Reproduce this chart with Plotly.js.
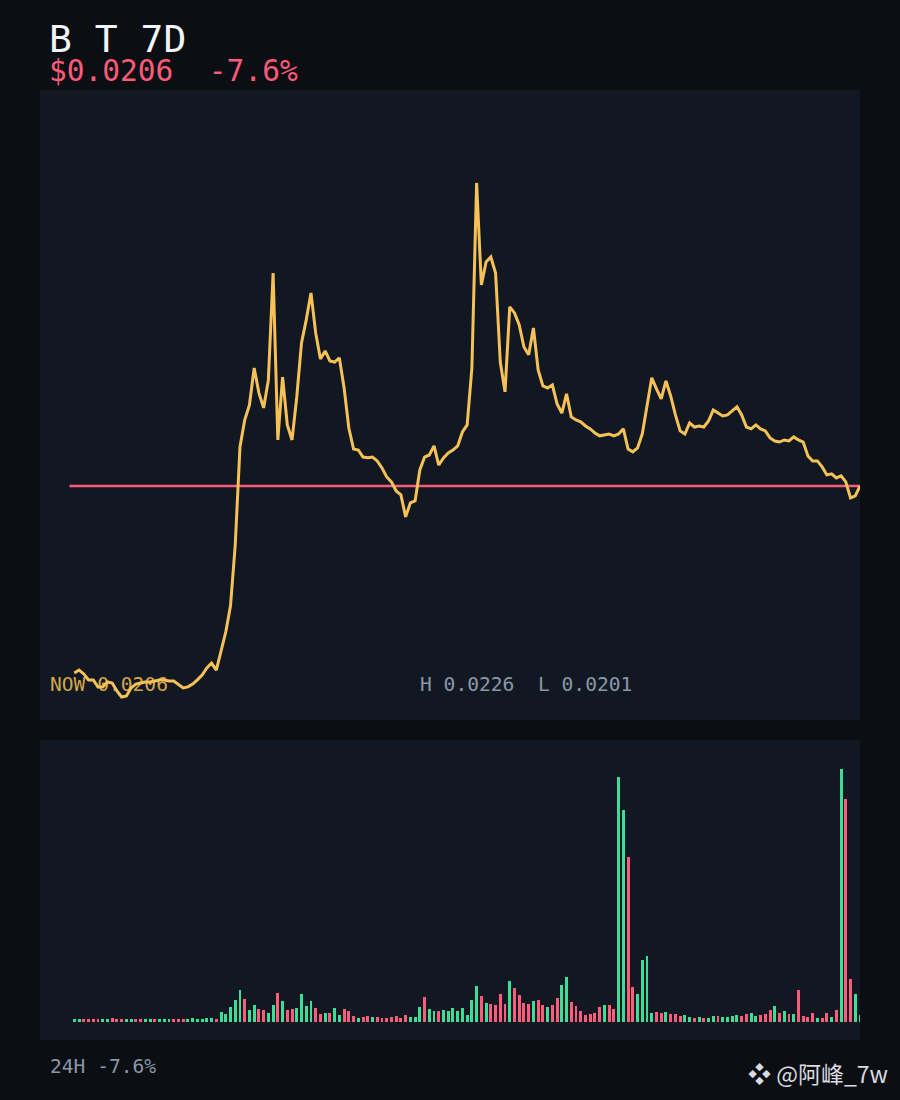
<!DOCTYPE html>
<html>
<head>
<meta charset="utf-8">
<script src="https://cdn.plot.ly/plotly-3.0.1.min.js"></script>
<style>
  html, body { margin: 0; padding: 0; background: #0b0e13; }
  #chart { width: 900px; height: 1100px; }
</style>
</head>
<body>
<div id="chart"></div>
<script>
// ---- data (hourly, 7 days) ----
const prices = [
  0.020217,0.020231,0.020212,0.020183,0.020183,0.020149,0.020149,0.020173,0.020168,0.020129,
  0.020100,0.020105,0.020144,0.020163,0.020168,0.020173,0.020173,0.020178,0.020183,0.020183,
  0.020178,0.020178,0.020163,0.020144,0.020149,0.020163,0.020183,0.020207,0.020241,0.020265,
  0.020231,0.020319,0.020416,0.020543,0.020839,0.021316,0.021447,0.021520,0.021700,0.021579,
  0.021506,0.021642,0.022162,0.021350,0.021656,0.021423,0.021350,0.021559,0.021822,0.021934,
  0.022065,0.021870,0.021744,0.021783,0.021734,0.021729,0.021749,0.021603,0.021408,0.021306,
  0.021301,0.021267,0.021263,0.021267,0.021248,0.021214,0.021170,0.021146,0.021102,0.021083,
  0.020976,0.021044,0.021053,0.021204,0.021267,0.021277,0.021321,0.021228,0.021263,0.021287,
  0.021301,0.021321,0.021389,0.021423,0.021700,0.022600,0.022104,0.022216,0.022240,0.022162,
  0.021729,0.021584,0.021997,0.021968,0.021909,0.021802,0.021764,0.021895,0.021691,0.021613,
  0.021603,0.021618,0.021525,0.021481,0.021574,0.021462,0.021447,0.021438,0.021418,0.021404,
  0.021384,0.021370,0.021374,0.021379,0.021370,0.021379,0.021404,0.021306,0.021292,0.021311,
  0.021379,0.021506,0.021652,0.021598,0.021550,0.021637,0.021564,0.021472,0.021394,0.021379,
  0.021433,0.021413,0.021418,0.021413,0.021442,0.021496,0.021481,0.021467,0.021472,0.021491,
  0.021511,0.021472,0.021413,0.021404,0.021423,0.021404,0.021394,0.021360,0.021345,0.021340,
  0.021350,0.021345,0.021365,0.021350,0.021340,0.021272,0.021248,0.021248,0.021219,0.021180,
  0.021185,0.021165,0.021175,0.021146,0.021068,0.021078,0.021126
];
const baseline = 0.021126;

const volumes = [
  3,3,3,3,3,3,3,3,4,3,  3,3,3,3,3,3,3,3,3,3,  3,3,3,3,3,4,3,3,4,4,
  3,10,8,15,22,32,23,12,17,13,  12,9,17,29,21,12,13,14,28,16,
  21,14,8,9,9,14,7,13,11,6,  4,5,6,5,5,4,4,5,6,4,
  7,5,5,15,25,13,11,11,12,11,  14,11,14,7,22,36,26,19,18,17,
  28,18,41,34,27,19,18,21,22,17,  15,17,24,37,45,20,16,11,7,8,
  9,15,17,17,13,245,212,165,35,28,  62,66,9,10,9,10,8,8,6,7,
  5,4,5,4,4,6,6,5,5,6,  7,6,8,9,6,7,8,12,16,9,
  11,8,8,32,6,5,9,4,4,9,  5,12,253,223,43,28,7
];
// 1 = up candle, 0 = down candle
const upDown = [
  1,1,0,0,0,0,1,1,0,0,  0,1,1,0,0,1,1,0,1,1,  1,0,0,0,1,1,1,1,1,1,
  0,1,1,1,1,1,0,1,1,0,  0,1,1,0,1,0,0,1,1,1,  1,0,0,1,0,1,1,0,0,0,
  1,0,0,1,0,0,0,0,0,0,  0,1,1,1,0,1,1,0,1,1,  1,1,1,1,1,1,0,1,0,0,
  0,0,1,0,0,0,0,1,0,0,  1,0,0,1,1,0,0,0,0,0,  0,0,1,0,0,1,1,0,0,1,
  1,1,1,0,0,1,0,0,0,1,  1,0,1,0,1,1,0,1,1,1,  1,0,0,1,1,0,0,0,1,0,
  1,0,1,0,0,0,0,1,0,0,  1,0,1,0,0,1,1
];

const titleText = 'B T 7D';
const priceText = '$0.0206  -7.6%';
const nowText = 'NOW 0.0206';
const hiLoText = 'H 0.0226  L 0.0201';
const changeText = '24H -7.6%';
const credit = '❖ @阿峰_7w';

// ---- build ----
const hours = prices.map((_, i) => i);
const UP = '#3ddc97', DOWN = '#ff5c7c';
const mono = 'DejaVu Sans Mono, monospace';

const traces = [
  {
    x: [hours[0] - 1, hours[hours.length - 1]],
    y: [baseline, baseline],
    xaxis: 'x', yaxis: 'y',
    type: 'scatter', mode: 'lines',
    line: { color: '#ff5c7c', width: 2.5 },
    hoverinfo: 'skip'
  },
  {
    x: hours, y: prices,
    xaxis: 'x', yaxis: 'y',
    type: 'scatter', mode: 'lines',
    line: { color: '#f6c157', width: 3, shape: 'linear' },
    hoverinfo: 'skip'
  },
  {
    x: hours, y: volumes,
    xaxis: 'x2', yaxis: 'y2',
    type: 'bar', width: 0.62,
    marker: { color: upDown.map(d => d ? UP : DOWN), line: { width: 0 } },
    hoverinfo: 'skip'
  }
];

const hidden = { visible: false, showgrid: false, zeroline: false, fixedrange: true };

const headerText =
  '<span style="font-size:38px;color:#f2f4f7">' + titleText + '</span><br>' +
  '<span style="font-size:29.5px;color:#ff5a7a">' + priceText + '</span>';

const layout = {
  width: 900, height: 1100,
  paper_bgcolor: '#0b0e13',
  plot_bgcolor: '#121822',
  showlegend: false,
  margin: { l: 40, r: 40, t: 90, b: 60, pad: 0 },
  xaxis: Object.assign({}, hidden, { range: [-7.25, 166], domain: [0, 1], anchor: 'y' }),
  yaxis: Object.assign({}, hidden, { range: [0.019988, 0.023052], domain: [0.33684, 1], anchor: 'x' }),
  xaxis2: Object.assign({}, hidden, { range: [-7.25, 166], domain: [0, 1], anchor: 'y2' }),
  yaxis2: Object.assign({}, hidden, { range: [-18, 282], domain: [0, 0.31579], anchor: 'x2' }),
  bargap: 0,
  annotations: [
    { xref: 'paper', yref: 'paper', x: 0.0085, y: 1.0392, xanchor: 'left', yanchor: 'middle', align: 'left',
      text: headerText, showarrow: false, font: { family: mono, size: 22, color: '#f2f4f7' } },
    { xref: 'paper', yref: 'paper', x: 0.0100, y: 0.3737, xanchor: 'left', yanchor: 'middle',
      text: nowText, showarrow: false, font: { family: mono, size: 19.6, color: 'rgba(246,193,87,0.85)' } },
    { xref: 'paper', yref: 'paper', x: 0.4610, y: 0.3737, xanchor: 'left', yanchor: 'middle',
      text: hiLoText, showarrow: false, font: { family: mono, size: 19.6, color: '#8a96a9' } },
    { xref: 'paper', yref: 'paper', x: 0.0100, y: -0.0284, xanchor: 'left', yanchor: 'middle',
      text: changeText, showarrow: false, font: { family: mono, size: 19.6, color: '#8a96a9' } },
    { xref: 'paper', yref: 'paper', x: 1.0366, y: -0.0347, xanchor: 'right', yanchor: 'middle',
      text: credit, showarrow: false, font: { family: 'Noto Sans CJK SC, DejaVu Sans, sans-serif', size: 23, color: '#d9dbe0' } }
  ]
};

Plotly.newPlot('chart', traces, layout, { displayModeBar: false, staticPlot: true });
</script>
</body>
</html>
